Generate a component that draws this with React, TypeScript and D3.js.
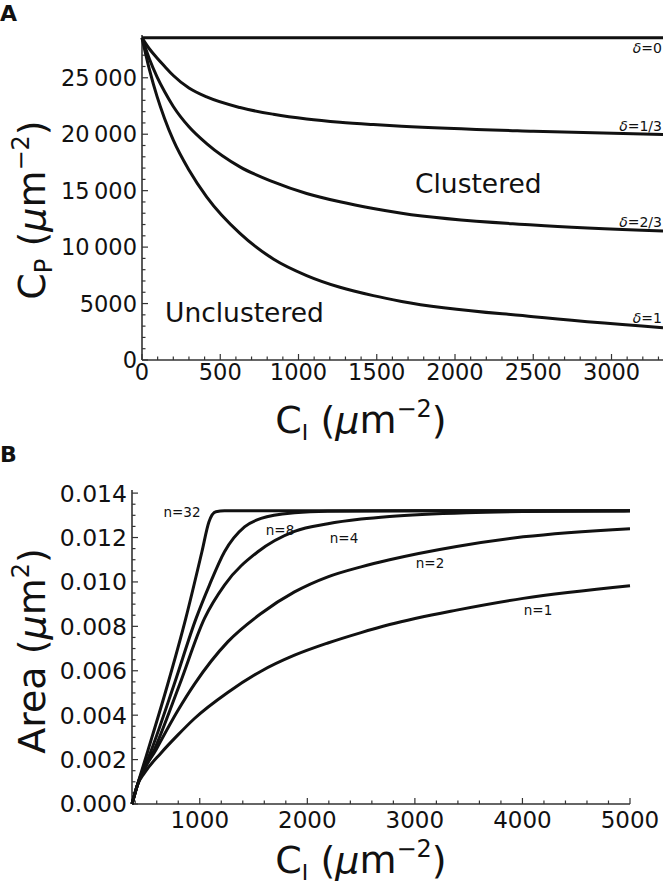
import React from "react";
import * as d3 from "d3";

// ---------- Panel A data ----------
const aCI = [0, 48, 96, 144, 200, 300, 413, 626, 839, 1052, 1265, 1478, 1659, 2501, 3329];
const aDelta0 = [28540, 28540, 28540, 28540, 28540, 28540, 28540, 28540, 28540, 28540, 28540, 28540, 28540, 28540, 28540];
const aDelta13 = [28540, 27550, 26750, 26020, 25200, 24090, 23300, 22360, 21770, 21350, 21060, 20855, 20710, 20265, 19970];
const aDelta23 = [28540, 26640, 25080, 23780, 22460, 20660, 19170, 17110, 15780, 14750, 14010, 13420, 13000, 11950, 11420];
const aDelta1 = [28540, 25700, 23350, 21400, 19470, 16830, 14450, 11210, 8950, 7480, 6440, 5700, 5190, 3830, 2860];
const aSeriesLabels = ["δ=0", "δ=1/3", "δ=2/3", "δ=1"];
const aXTicks = [0, 500, 1000, 1500, 2000, 2500, 3000];
const aYTicks = [0, 5000, 10000, 15000, 20000, 25000];
const aYTickLabels = ["0", "5000", "10\u2009000", "15\u2009000", "20\u2009000", "25\u2009000"];

// ---------- Panel B data ----------
const n32X = [370, 420, 515, 700, 870, 1020, 1085, 1150, 1230, 5000];
const n32Y = [0, 0.00085, 0.00236, 0.00536, 0.00836, 0.01136, 0.0127, 0.01316, 0.0132, 0.0132];
const n8X = [370, 420, 545, 760, 966, 1090, 1230, 1416, 1570, 1881, 2191, 3000, 5000];
const n8Y = [0, 0.00085, 0.00236, 0.00536, 0.00836, 0.00986, 0.01136, 0.01248, 0.01286, 0.01311, 0.01318, 0.0132, 0.0132];
const n4X = [370, 420, 570, 811, 1044, 1230, 1540, 1881, 2191, 2500, 2765, 3481, 4000, 5000];
const n4Y = [0, 0.00085, 0.00236, 0.00536, 0.00836, 0.00986, 0.01136, 0.01228, 0.01262, 0.01283, 0.01295, 0.01312, 0.01317, 0.0132];
const n2X = [370, 420, 600, 795, 951, 1260, 1570, 1881, 2191, 2500, 2765, 3388, 4007, 5000];
const n2Y = [0, 0.00085, 0.0025, 0.0042, 0.0054, 0.0073, 0.00858, 0.00955, 0.01023, 0.01068, 0.011, 0.0116, 0.01203, 0.0124];
const n1X = [370, 420, 486, 640, 795, 951, 1260, 1570, 1881, 2191, 2500, 2765, 3388, 4007, 5000];
const n1Y = [0, 0.00085, 0.0014, 0.0023, 0.0031, 0.00385, 0.00502, 0.00598, 0.0067, 0.00725, 0.00772, 0.00808, 0.00873, 0.00926, 0.00983];
const bSeriesLabels = ["n=32", "n=8", "n=4", "n=2", "n=1"];
const bXTicks = [1000, 2000, 3000, 4000, 5000];
const bYTicks = [0, 0.002, 0.004, 0.006, 0.008, 0.01, 0.012, 0.014];
const bYTickLabels = ["0.000", "0.002", "0.004", "0.006", "0.008", "0.010", "0.012", "0.014"];

const FONT = "DejaVu Sans";
const AX = "#333";

export default function App() {
  // Panel A scales
  const ax = d3.scaleLinear().domain([0, 3329]).range([142, 663]);
  const ay = d3.scaleLinear().domain([0, 28700]).range([360, 36]);
  // Panel B scales
  const bx = d3.scaleLinear().domain([370, 5000]).range([132, 630]);
  const by = d3.scaleLinear().domain([0, 0.01414]).range([804, 490]);

  const lineA = d3
    .line<number>()
    .x((_, i) => ax(aCI[i]))
    .y((d) => ay(d))
    .curve(d3.curveMonotoneX);

  const lineB = (xs: number[], ys: number[]) =>
    d3
      .line<number>()
      .x((d) => bx(d))
      .y((_, i) => by(ys[i]))
      .curve(d3.curveMonotoneX)(xs) as string;

  const aSeries = [aDelta0, aDelta13, aDelta23, aDelta1];
  const aLabelY = [53, 131, 227, 323];

  const bSeries: [number[], number[]][] = [
    [n32X, n32Y],
    [n8X, n8Y],
    [n4X, n4Y],
    [n2X, n2Y],
    [n1X, n1Y],
  ];
  const bLabelPos = [
    [182, 517],
    [280, 535],
    [344, 543],
    [430, 568],
    [538, 615],
  ];

  const aXMinor = d3.range(0, 3329, 100);
  const aYMinor = d3.range(0, 28701, 1000);
  const bXMinor = d3.range(400, 5001, 200);
  const bYMinor = d3.range(0, 0.01401, 0.0005);

  const ciTitle = (
    <>
      C<tspan fontSize={22} dy={7}>I</tspan>
      <tspan dy={-7}> (</tspan>
      <tspan fontStyle="italic">μ</tspan>m
      <tspan fontSize={24} dy={-16}>−2</tspan>
      <tspan dy={16}>)</tspan>
    </>
  );

  return (
    <svg
      width={663}
      height={884}
      style={{ position: "absolute", left: 0, top: 0, background: "#fff" }}
      fontFamily={FONT}
    >
      <rect x={0} y={0} width={663} height={884} fill="#fff" />
      {/* Panel letters */}
      <text x={0} y={21} fontSize={22} fontWeight="bold" fill="#111">A</text>
      <text x={0} y={462} fontSize={22} fontWeight="bold" fill="#111">B</text>

      {/* ---------------- Panel A ---------------- */}
      <g>
        {aXMinor.map((v) => (
          <line key={"axm" + v} x1={ax(v)} x2={ax(v)} y1={360} y2={aXTicks.includes(v) ? 354 : 356.5} stroke={AX} strokeWidth={1.2} />
        ))}
        {aYMinor.map((v) => (
          <line key={"aym" + v} x1={142} x2={aYTicks.includes(v) ? 148 : 145.5} y1={ay(v)} y2={ay(v)} stroke={AX} strokeWidth={1.2} />
        ))}
        <line x1={142} x2={663} y1={360} y2={360} stroke={AX} strokeWidth={1.6} />
        <line x1={142} x2={142} y1={35} y2={360} stroke={AX} strokeWidth={1.6} />
        {aXTicks.map((v) => (
          <text key={"axt" + v} x={ax(v)} y={380} fontSize={22.5} textAnchor="middle" fill="#111">{String(v)}</text>
        ))}
        {aYTicks.map((v, i) => (
          <text key={"ayt" + v} x={137} y={ay(v)} dy="0.36em" fontSize={22.5} textAnchor="end" fill="#111">{aYTickLabels[i]}</text>
        ))}
        {aSeries.map((s, i) => (
          <path key={"as" + i} d={lineA(s) as string} fill="none" stroke="#111" strokeWidth={3} />
        ))}
        {aSeriesLabels.map((l, i) => (
          <text key={"al" + i} x={662} y={aLabelY[i]} fontSize={14} textAnchor="end" fill="#111">
            <tspan fontStyle="italic">δ</tspan>
            {l.slice(1)}
          </text>
        ))}
        <text x={415} y={193} fontSize={26.5} fill="#111">Clustered</text>
        <text x={165} y={322} fontSize={26.5} fill="#111">Unclustered</text>
        <text x={361} y={433} fontSize={38} textAnchor="middle" fill="#111">{ciTitle}</text>
        <text transform="translate(45,210) rotate(-90)" fontSize={38} textAnchor="middle" fill="#111">
          C<tspan fontSize={24} dy={7}>P</tspan>
          <tspan dy={-7}> (</tspan>
          <tspan fontStyle="italic">μ</tspan>m
          <tspan fontSize={24} dy={-16}>−2</tspan>
          <tspan dy={16}>)</tspan>
        </text>
      </g>

      {/* ---------------- Panel B ---------------- */}
      <g>
        {bXMinor.map((v) => (
          <line key={"bxm" + v} x1={bx(v)} x2={bx(v)} y1={804} y2={bXTicks.includes(v) ? 798 : 800.5} stroke={AX} strokeWidth={1.2} />
        ))}
        {bYMinor.map((v, i) => (
          <line key={"bym" + i} x1={132} x2={i % 4 === 0 ? 138 : 135.5} y1={by(v)} y2={by(v)} stroke={AX} strokeWidth={1.2} />
        ))}
        <line x1={132} x2={630} y1={804} y2={804} stroke={AX} strokeWidth={1.6} />
        <line x1={132} x2={132} y1={490} y2={804} stroke={AX} strokeWidth={1.6} />
        {bXTicks.map((v) => (
          <text key={"bxt" + v} x={bx(v)} y={828} fontSize={23} textAnchor="middle" fill="#111">{String(v)}</text>
        ))}
        {bYTicks.map((v, i) => (
          <text key={"byt" + i} x={127} y={by(v)} dy="0.36em" fontSize={23.5} textAnchor="end" fill="#111">{bYTickLabels[i]}</text>
        ))}
        {bSeries.map(([xs, ys], i) => (
          <path key={"bs" + i} d={lineB(xs, ys)} fill="none" stroke="#111" strokeWidth={3} />
        ))}
        {bSeriesLabels.map((l, i) => (
          <text key={"bl" + i} x={bLabelPos[i][0]} y={bLabelPos[i][1]} fontSize={13.5} textAnchor="middle" fill="#111">{l}</text>
        ))}
        <text x={361} y={873} fontSize={38} textAnchor="middle" fill="#111">{ciTitle}</text>
        <text transform="translate(45,651) rotate(-90)" fontSize={38} textAnchor="middle" fill="#111">
          Area (<tspan fontStyle="italic">μ</tspan>m
          <tspan fontSize={24} dy={-16}>2</tspan>
          <tspan dy={16}>)</tspan>
        </text>
      </g>
    </svg>
  );
}
